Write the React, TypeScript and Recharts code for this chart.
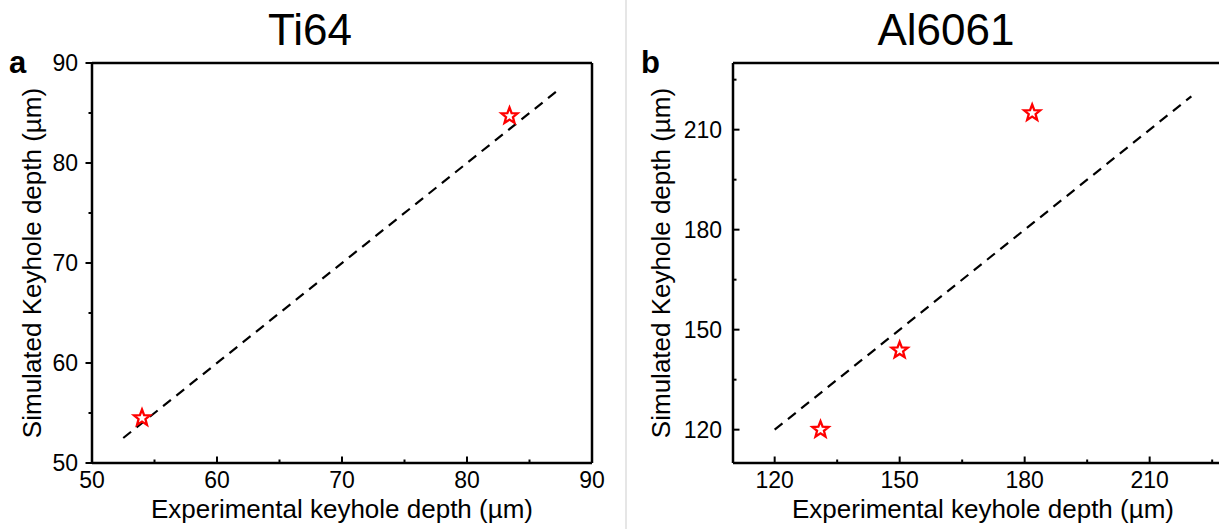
import React from 'react';
import { ScatterChart, Scatter, XAxis, YAxis, ReferenceLine } from 'recharts';

// Ti64 panel
const tiDomain = [50, 90];
const tiMajor = [50, 60, 70, 80, 90];
const tiMinor = [55, 65, 75, 85];
const tiExperimental = [54.0, 83.4];
const tiSimulated = [54.5, 84.7];
const tiFitLine = [52.5, 87.5];

// Al6061 panel
const alDomain = [110, 230];
const alMajor = [120, 150, 180, 210];
const alMinor = [135, 165, 195, 225];
const alExperimental = [131, 150, 181.8];
const alSimulated = [120, 143.8, 215];
const alFitLine = [120, 220];

const FONT = '"Liberation Sans", Arial, sans-serif';
const AXIS_W = 2.5;

const toPoints = (xs: number[], ys: number[]) => xs.map((x, i) => ({ x, y: ys[i] }));

function Star(props: any) {
  const { cx, cy } = props;
  if (cx == null || cy == null) return null;
  const outer = 8.5;
  const inner = 3.6;
  const pts: string[] = [];
  for (let i = 0; i < 10; i++) {
    const r = i % 2 === 0 ? outer : inner;
    const a = -Math.PI / 2 + (i * Math.PI) / 5;
    pts.push(`${cx + r * Math.cos(a)},${cy + r * Math.sin(a)}`);
  }
  return <polygon points={pts.join(' ')} fill="#fff" stroke="#ff0000" strokeWidth={2.3} strokeLinejoin="miter" />;
}

function makeXTick(major: number[]) {
  return (props: any) => {
    const { x, y, payload } = props;
    const isMajor = major.includes(payload.value);
    const len = isMajor ? 6.5 : 3.5;
    return (
      <g>
        <line x1={x} x2={x} y1={y} y2={y - len} stroke="#000" strokeWidth={2} />
        {isMajor && (
          <text x={x} y={y + 25} textAnchor="middle" fontSize={23} fontFamily={FONT} fill="#000">
            {payload.value}
          </text>
        )}
      </g>
    );
  };
}

function makeYTick(major: number[], inward: boolean, labelGap: number) {
  return (props: any) => {
    const { x, y, payload } = props;
    const isMajor = major.includes(payload.value);
    const len = isMajor ? 6.5 : 3.5;
    const x2 = inward ? x + len : x - len;
    return (
      <g>
        <line x1={x} x2={x2} y1={y} y2={y} stroke="#000" strokeWidth={2} />
        {isMajor && (
          <text x={x - labelGap} y={y + 8} textAnchor="end" fontSize={23} fontFamily={FONT} fill="#000">
            {payload.value}
          </text>
        )}
      </g>
    );
  };
}

function YTitle(props: any) {
  const { viewBox, value, baseX } = props;
  const cy = viewBox.y + viewBox.height / 2;
  return (
    <text
      x={baseX}
      y={cy}
      transform={`rotate(-90, ${baseX}, ${cy})`}
      textAnchor="middle"
      fontSize={26}
      fontFamily={FONT}
      fill="#000"
    >
      {value}
    </text>
  );
}

function XTitle(props: any) {
  const { viewBox, value } = props;
  return (
    <text
      x={viewBox.x + viewBox.width / 2}
      y={518}
      textAnchor="middle"
      fontSize={26}
      fontFamily={FONT}
      fill="#000"
    >
      {value}
    </text>
  );
}

interface PanelProps {
  left: number;
  yAxisWidth: number;
  domain: number[];
  major: number[];
  minor: number[];
  points: { x: number; y: number }[];
  fit: number[];
  yInward: boolean;
  yLabelGap: number;
  yTitleX: number;
}

function Panel({ left, yAxisWidth, domain, major, minor, points, fit, yInward, yLabelGap, yTitleX }: PanelProps) {
  const ticks = [...major, ...minor].sort((a, b) => a - b);
  return (
    <div style={{ position: 'absolute', left, top: 0 }}>
      <ScatterChart width={620} height={529} margin={{ top: 63, right: 620 - yAxisWidth - 500, bottom: 0, left: 0 }}>
        <XAxis
          type="number"
          dataKey="x"
          domain={domain}
          ticks={ticks}
          interval={0}
          height={66}
          tickSize={0}
          tickMargin={0}
          tickLine={false}
          axisLine={{ stroke: '#000', strokeWidth: AXIS_W }}
          tick={makeXTick(major)}
          label={<XTitle value="Experimental keyhole depth (µm)" />}
        />
        <YAxis
          type="number"
          dataKey="y"
          domain={domain}
          ticks={ticks}
          interval={0}
          width={yAxisWidth}
          tickSize={0}
          tickMargin={0}
          tickLine={false}
          axisLine={{ stroke: '#000', strokeWidth: AXIS_W }}
          tick={makeYTick(major, yInward, yLabelGap)}
          label={<YTitle value="Simulated Keyhole depth (µm)" baseX={yTitleX} />}
        />
        <ReferenceLine y={domain[1]} stroke="#000" strokeWidth={AXIS_W} />
        <ReferenceLine x={domain[1]} stroke="#000" strokeWidth={AXIS_W} />
        <ReferenceLine
          segment={[
            { x: fit[0], y: fit[0] },
            { x: fit[1], y: fit[1] },
          ]}
          stroke="#000"
          strokeWidth={2.2}
          strokeDasharray="10 7"
        />
        <Scatter data={points} shape={Star} isAnimationActive={false} />
      </ScatterChart>
    </div>
  );
}

export default function App() {
  return (
    <div
      style={{
        position: 'absolute',
        left: 0,
        top: 0,
        width: 1219,
        height: 529,
        overflow: 'hidden',
        background: '#fff',
        fontFamily: FONT,
      }}
    >
      <div style={{ position: 'absolute', left: 625, top: 0, width: 2, height: 529, background: '#e6e6e6' }} />
      <Panel
        left={0}
        yAxisWidth={92}
        domain={tiDomain}
        major={tiMajor}
        minor={tiMinor}
        points={toPoints(tiExperimental, tiSimulated)}
        fit={tiFitLine}
        yInward={false}
        yLabelGap={14}
        yTitleX={41}
      />
      <Panel
        left={640}
        yAxisWidth={93}
        domain={alDomain}
        major={alMajor}
        minor={alMinor}
        points={toPoints(alExperimental, alSimulated)}
        fit={alFitLine}
        yInward={true}
        yLabelGap={11}
        yTitleX={30}
      />
      <svg width={1219} height={80} style={{ position: 'absolute', left: 0, top: 0 }}>
        <text x={310} y={45} textAnchor="middle" fontSize={44} fontFamily={FONT} fill="#000">
          Ti64
        </text>
        <text x={946} y={45} textAnchor="middle" fontSize={44} fontFamily={FONT} fill="#000">
          Al6061
        </text>
        <text x={9} y={73} fontSize={31} fontWeight="bold" fontFamily={FONT} fill="#000">
          a
        </text>
        <text x={641} y={73} fontSize={31} fontWeight="bold" fontFamily={FONT} fill="#000">
          b
        </text>
      </svg>
    </div>
  );
}
